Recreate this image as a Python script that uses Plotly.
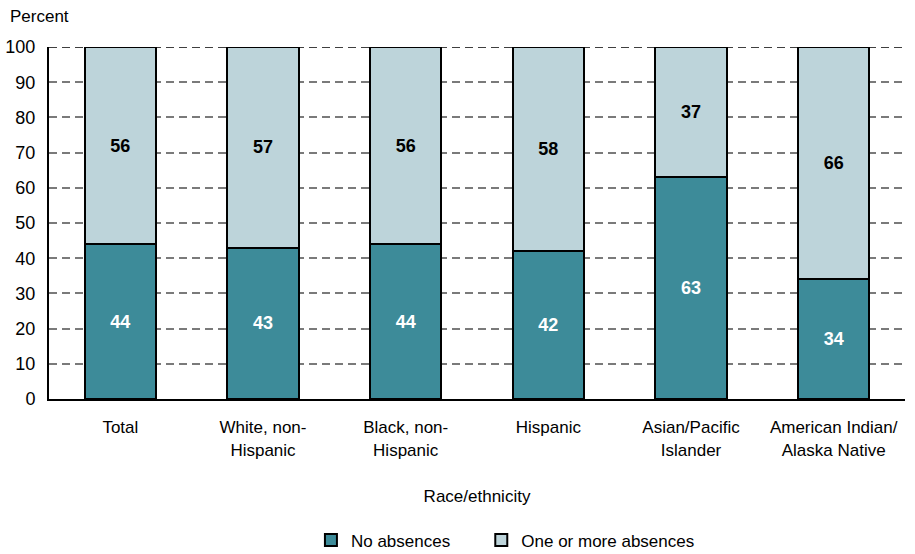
import plotly.graph_objects as go

categories = ["Total", "White, non-<br>Hispanic", "Black, non-<br>Hispanic", "Hispanic",
              "Asian/Pacific<br>Islander", "American Indian/<br>Alaska Native"]
no_absences = [44, 43, 44, 42, 63, 34]
one_or_more = [56, 57, 56, 58, 37, 66]
y_ticks = [0, 10, 20, 30, 40, 50, 60, 70, 80, 90, 100]

FONT = "Liberation Sans Narrow, Liberation Sans, Arial, sans-serif"
DARK = "#3d8b99"
LIGHT = "#bdd4da"

fig = go.Figure()
fig.add_trace(go.Bar(
    x=categories, y=no_absences, name="No absences", legend="legend",
    marker=dict(color=DARK, line=dict(color="black", width=2)),
    text=no_absences, textposition="inside", insidetextanchor="middle",
    textfont=dict(color="white", size=18, family=FONT, weight="bold"),
    textangle=0,
))
fig.add_trace(go.Bar(
    x=categories, y=one_or_more, name="One or more absences", legend="legend2",
    marker=dict(color=LIGHT, line=dict(color="black", width=2)),
    text=one_or_more, textposition="inside", insidetextanchor="middle",
    textfont=dict(color="black", size=18, family=FONT, weight="bold"),
    textangle=0,
))

fig.add_shape(type="line", xref="paper", yref="y", x0=0, x1=1, y0=100, y1=100,
              line=dict(color="black", width=1.5, dash="8px,5px"), layer="below")

fig.add_annotation(text="Percent", xref="paper", yref="paper", x=-0.048, y=1.088,
                   xanchor="left", yanchor="middle", showarrow=False,
                   font=dict(size=17, family=FONT, color="black"))

legend_common = dict(orientation="h", xanchor="left", y=-0.351, yanchor="top",
                     font=dict(size=17, family=FONT), bgcolor="rgba(0,0,0,0)")

fig.update_layout(
    width=915, height=554,
    barmode="stack", bargap=0.5,
    margin=dict(l=49, r=10, t=47, b=155, autoexpand=False),
    plot_bgcolor="white", paper_bgcolor="white",
    font=dict(family=FONT, size=17, color="black"),
    showlegend=True,
    legend=dict(x=0.306, **legend_common),
    legend2=dict(x=0.505, **legend_common),
    uniformtext=dict(mode="show", minsize=10),
)
fig.update_xaxes(
    showline=True, linecolor="black", linewidth=2, ticks="", automargin=False,
    title=dict(text="Race/ethnicity", font=dict(size=17, family=FONT), standoff=32),
    tickfont=dict(size=17, family=FONT), ticklabelstandoff=12,
)
fig.update_yaxes(
    range=[0, 100], tickvals=y_ticks, showline=True, linecolor="black", linewidth=2,
    showgrid=True, gridcolor="#7a7a7a", gridwidth=1.5, griddash="8px,5px",
    zeroline=False, ticks="", tickfont=dict(size=18, family=FONT), ticklabelstandoff=8,
    automargin=False,
)

fig.write_html("out.html", config={"displayModeBar": False},
               post_script="document.body.style.margin='0';document.body.style.overflow='hidden';")
